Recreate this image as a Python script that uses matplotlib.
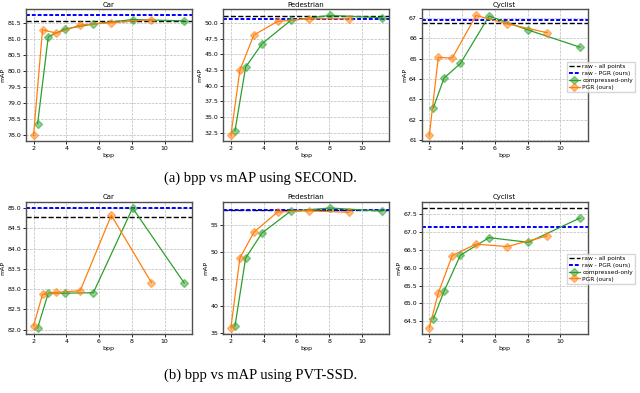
import numpy as np
import matplotlib
matplotlib.use('Agg')
from matplotlib import pyplot as plt
from matplotlib.ticker import MultipleLocator

# bpp values of the two methods
bpp_pgr = [2.0, 2.55, 3.4, 4.85, 6.75, 9.2]
bpp_comp = [2.25, 2.9, 3.9, 5.65, 8.05, 11.2]

classes = ['Car', 'Pedestrian', 'Cyclist']

# SECOND
second_raw = [81.56, 51.17, 66.75]
second_raw_pgr = [81.75, 50.69, 66.9]
second_comp = [
    [78.34, 81.08, 81.32, 81.48, 81.62, 81.58],
    [32.82, 42.98, 46.7, 50.43, 51.22, 50.85],
    [62.6, 64.05, 64.77, 67.1, 66.41, 65.57],
]
second_pgr = [
    [77.97, 81.3, 81.19, 81.45, 81.52, 81.62],
    [32.07, 42.5, 48.09, 50.27, 50.69, 50.69],
    [61.23, 65.07, 65.03, 67.13, 66.72, 66.28],
]

# PVT-SSD
pvt_raw = [84.79, 57.62, 67.67]
pvt_raw_pgr = [84.99, 57.64, 67.13]
pvt_comp = [
    [82.04, 82.9, 82.9, 82.91, 85.0, 83.15],
    [36.35, 48.87, 53.47, 57.5, 58.07, 57.5],
    [64.57, 65.34, 66.35, 66.84, 66.71, 67.39],
]
pvt_pgr = [
    [82.09, 82.87, 82.92, 82.96, 84.82, 83.16],
    [35.98, 48.87, 53.6, 57.33, 57.56, 57.27],
    [64.31, 65.29, 66.34, 66.66, 66.59, 66.89],
]

ystep = [[0.5, 2.5, 1.0], [0.5, 5.0, 0.5]]
captions = ['(a) bpp vs mAP using SECOND.', '(b) bpp vs mAP using PVT-SSD.']

fig = plt.figure(figsize=(6.4, 3.93), dpi=100)
lefts = [0.0406, 0.349, 0.659]
bottoms = [0.640, 0.150]
w, h = 0.259, 0.336

rows = [(second_raw, second_raw_pgr, second_comp, second_pgr),
        (pvt_raw, pvt_raw_pgr, pvt_comp, pvt_pgr)]

for r, (raw, raw_pgr, comp, pgr) in enumerate(rows):
    for c in range(3):
        ax = fig.add_axes([lefts[c], bottoms[r], w, h])
        l1 = ax.axhline(raw[c], color='black', ls='--', lw=1.0, label='raw - all points')
        l2 = ax.axhline(raw_pgr[c], color='blue', ls='--', lw=1.4, dashes=(2, 1), label='raw - PGR (ours)')
        l3, = ax.plot(bpp_comp, comp[c], color='#2ca02c', marker='D', ms=4,
                      mfc=(0.17, 0.63, 0.17, 0.5), mew=1.0, lw=0.9, label='compressed-only')
        l4, = ax.plot(bpp_pgr, pgr[c], color='#ff7f0e', marker='D', ms=4,
                      mfc=(1.0, 0.5, 0.05, 0.5), mew=1.0, lw=0.9, label='PGR (ours)')
        ax.set_title(classes[c], fontsize=5, pad=2)
        ax.set_xlabel('bpp', fontsize=4.5, labelpad=1.5)
        ax.set_ylabel('mAP', fontsize=4.5, labelpad=1.5)
        ax.xaxis.set_major_locator(MultipleLocator(2))
        ax.yaxis.set_major_locator(MultipleLocator(ystep[r][c]))
        ax.tick_params(labelsize=4.5, length=2, width=0.6, pad=1.5)
        ax.grid(True, ls='--', lw=0.5, color='#bbbbbb')
        for s in ax.spines.values():
            s.set_linewidth(1.0)
            s.set_color('#505050')
    leg_y = [0.842, 0.354][r]
    fig.legend(handles=[l1, l2, l3, l4], loc='upper left', bbox_to_anchor=(0.886, leg_y),
               fontsize=4.2, frameon=True, fancybox=False, edgecolor='#cccccc',
               handlelength=1.8, handletextpad=0.5, borderpad=0.35, labelspacing=0.3,
               borderaxespad=0)

fig.text(0.407, 0.547, captions[0], ha='center', va='center', fontsize=10.5, family='Liberation Serif')
fig.text(0.407, 0.046, captions[1], ha='center', va='center', fontsize=10.5, family='Liberation Serif')

plt.savefig('out.png', dpi=100)
plt.close()
